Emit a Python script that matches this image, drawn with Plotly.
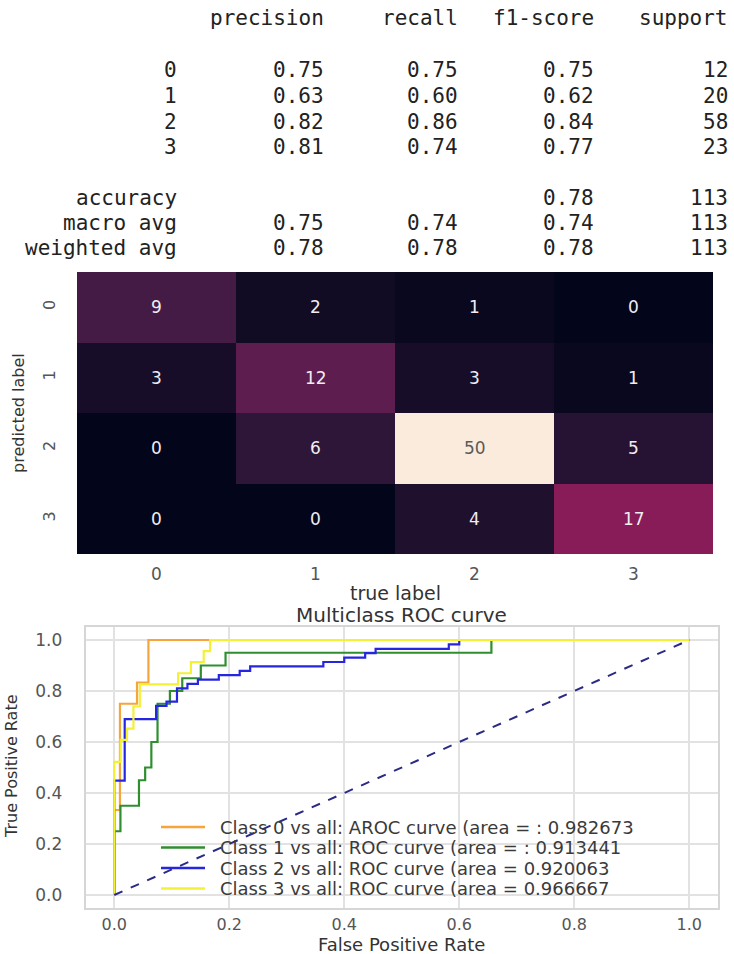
import plotly.graph_objects as go

W, H = 734, 954

# ---- classification report ----
report_labels = ["0", "1", "2", "3"]
precision = [0.75, 0.63, 0.82, 0.81]
recall = [0.75, 0.60, 0.86, 0.74]
f1_score = [0.75, 0.62, 0.84, 0.77]
support = [12, 20, 58, 23]
accuracy = 0.78
total_support = 113
macro_avg = [0.75, 0.74, 0.74]
weighted_avg = [0.78, 0.78, 0.78]
report_header = ["precision", "recall", "f1-score", "support"]

# ---- confusion matrix (rows: predicted label, columns: true label) ----
cm_labels = [0, 1, 2, 3]
conf_matrix = [
    [9, 2, 1, 0],
    [3, 12, 3, 1],
    [0, 6, 50, 5],
    [0, 0, 4, 17],
]

# ---- one-vs-all ROC curves ----
roc_names = [
    "Class 0 vs all: AROC curve (area = : 0.982673",
    "Class 1 vs all: ROC curve (area = : 0.913441",
    "Class 2 vs all: ROC curve (area = 0.920063",
    "Class 3 vs all: ROC curve (area = 0.966667",
]
roc_colors = ["#f5a53c", "#2f8f2f", "#2626e0", "#f4f032"]
roc_pos = [12, 20, 58, 23]     # positives per class
roc_neg = [101, 93, 55, 90]    # negatives per class
# cumulative false-positive counts where the curve steps up, and the
# true-positive count reached at each of those steps
roc_fp_counts = [
    [0, 1, 4, 6],
    [0, 1, 4, 5, 6, 7, 9, 11, 14, 18, 61],
    [0, 1, 4, 5, 6, 7, 8, 10, 12, 13, 20, 22, 24, 25, 32, 33],
    [0, 1, 2, 3, 4, 10, 12, 14, 15],
]
roc_tp_counts = [
    [4, 9, 10, 12],
    [5, 7, 9, 10, 12, 15, 16, 17, 18, 19, 20],
    [26, 40, 43, 44, 47, 48, 49, 50, 51, 52, 53, 54, 55, 56, 57, 58],
    [12, 14, 15, 17, 19, 20, 21, 22, 23],
]

# seaborn "rocket" colormap
rocket = [
    [0.0, "#03051a"], [0.143, "#35193e"], [0.286, "#701f57"],
    [0.429, "#ad1759"], [0.571, "#e13342"], [0.714, "#f37651"],
    [0.857, "#f6b48f"], [1.0, "#faebdd"],
]

SANS = "DejaVu Sans"
MONO = "DejaVu Sans Mono"


def px(x):
    return x / W


def py(y):
    return 1 - y / H


fig = go.Figure()

# confusion matrix heatmap
fig.add_trace(go.Heatmap(
    z=conf_matrix, x=cm_labels, y=cm_labels, colorscale=rocket,
    zmin=0, zmax=50, showscale=False, xgap=0, ygap=0,
    xaxis="x", yaxis="y", hoverinfo="z",
))

# ROC curves
for name, color, pos, neg, fps, tps in zip(roc_names, roc_colors, roc_pos,
                                            roc_neg, roc_fp_counts, roc_tp_counts):
    fpr = [0.0] + [k / neg for k in fps] + [1.0]
    tpr = [0.0] + [t / pos for t in tps] + [1.0]
    fig.add_trace(go.Scatter(
        x=fpr, y=tpr, mode="lines", line=dict(color=color, width=2.2, shape="hv"),
        name=name, xaxis="x2", yaxis="y2", showlegend=False,
    ))

# chance diagonal
fig.add_trace(go.Scatter(
    x=[0, 1], y=[0, 1], mode="lines",
    line=dict(color="#2b2b85", width=2, dash="dash"),
    xaxis="x2", yaxis="y2", showlegend=False, hoverinfo="skip",
))

annotations = []
shapes = []


def label(text, x, y, size, angle=0, color="#333333", xanchor="center"):
    annotations.append(dict(
        text=text, x=px(x), y=py(y), xref="paper", yref="paper",
        xanchor=xanchor, yanchor="middle", showarrow=False, textangle=angle,
        borderpad=0, font=dict(family=SANS, size=size, color=color),
    ))


# classification report as right-aligned text columns
col_right = [178, 325, 459, 595, 729]
text_color = "#222222"


def report_cell(text, col, y):
    annotations.append(dict(
        text=text, x=px(col_right[col]), y=py(y), xref="paper", yref="paper",
        xanchor="right", yanchor="middle", showarrow=False, borderpad=0,
        font=dict(family=MONO, size=21, color=text_color),
    ))


for i, h in enumerate(report_header):
    report_cell(h, i + 1, 18)
row_y = [70, 96, 122, 147]
for lab, p, r, f, s, y in zip(report_labels, precision, recall, f1_score, support, row_y):
    report_cell(lab, 0, y)
    report_cell(f"{p:.2f}", 1, y)
    report_cell(f"{r:.2f}", 2, y)
    report_cell(f"{f:.2f}", 3, y)
    report_cell(f"{s}", 4, y)
report_cell("accuracy", 0, 198)
report_cell(f"{accuracy:.2f}", 3, 198)
report_cell(f"{total_support}", 4, 198)
for lab, vals, y in [("macro avg", macro_avg, 223), ("weighted avg", weighted_avg, 248)]:
    report_cell(lab, 0, y)
    for j, v in enumerate(vals):
        report_cell(f"{v:.2f}", j + 1, y)
    report_cell(f"{total_support}", 4, y)

# heatmap cell values
zmax = max(max(r) for r in conf_matrix)
for i, row in enumerate(conf_matrix):
    for j, v in enumerate(row):
        annotations.append(dict(
            text=str(v), x=cm_labels[j], y=cm_labels[i], xref="x", yref="y",
            xanchor="center", yanchor="middle", showarrow=False,
            font=dict(family=SANS, size=17,
                      color="#5a5a5a" if v > 0.6 * zmax else "#f1ecef"),
        ))

tick_color = "#555555"

# heatmap axis titles
label("true label", 395, 593, 19)
label("predicted label", 19, 413, 16, angle=-90)

# ROC titles
label("Multiclass ROC curve", 401, 615, 20)
label("False Positive Rate", 401, 944, 18)
label("True Positive Rate", 11, 766, 16, angle=-90)

# ROC legend (key line + label per class)
leg_top, leg_pitch = 827, 20.5
key_x0, key_x1, text_x = 161, 205, 219
for i, (name, color) in enumerate(zip(roc_names, roc_colors)):
    yy = leg_top + i * leg_pitch
    shapes.append(dict(type="line", xref="paper", yref="paper",
                       x0=px(key_x0), x1=px(key_x1), y0=py(yy), y1=py(yy),
                       line=dict(color=color, width=2.5), layer="above"))
    label(name, text_x, yy, 18, color="#3a3a3a", xanchor="left")

grid = "#e2e2e2"
fig.update_layout(
    width=W, height=H, margin=dict(l=0, r=0, t=0, b=0),
    paper_bgcolor="white", plot_bgcolor="white", showlegend=False,
    xaxis=dict(domain=[px(77), px(713)], anchor="y", tickvals=cm_labels,
               showgrid=False, zeroline=False, showline=False, ticks="",
               ticklabelstandoff=8,
               tickfont=dict(family=SANS, size=17, color=tick_color)),
    yaxis=dict(domain=[py(554), py(272)], anchor="x", tickvals=cm_labels,
               autorange="reversed", showgrid=False, zeroline=False,
               showline=False, ticks="", tickangle=-90, ticklabelstandoff=18,
               tickfont=dict(family=SANS, size=16, color=tick_color)),
    xaxis2=dict(domain=[px(85.5), px(718)], anchor="y2", range=[-0.05, 1.05],
                tickvals=[0, 0.2, 0.4, 0.6, 0.8, 1.0], tickformat=".1f",
                showgrid=True, gridcolor=grid, gridwidth=1.5, zeroline=False,
                showline=True, mirror=True, linecolor="#d6d6d6", linewidth=1.5,
                ticks="", ticklabelstandoff=1,
                tickfont=dict(family=SANS, size=16, color=tick_color)),
    yaxis2=dict(domain=[py(907.75), py(627.25)], anchor="x2", range=[-0.05, 1.05],
                tickvals=[0, 0.2, 0.4, 0.6, 0.8, 1.0], tickformat=".1f",
                showgrid=True, gridcolor=grid, gridwidth=1.5, zeroline=False,
                showline=True, mirror=True, linecolor="#d6d6d6", linewidth=1.5,
                ticks="", ticklabelstandoff=18,
                tickfont=dict(family=SANS, size=17, color=tick_color)),
    annotations=annotations,
    shapes=shapes,
)

fig.write_html("out.html")
